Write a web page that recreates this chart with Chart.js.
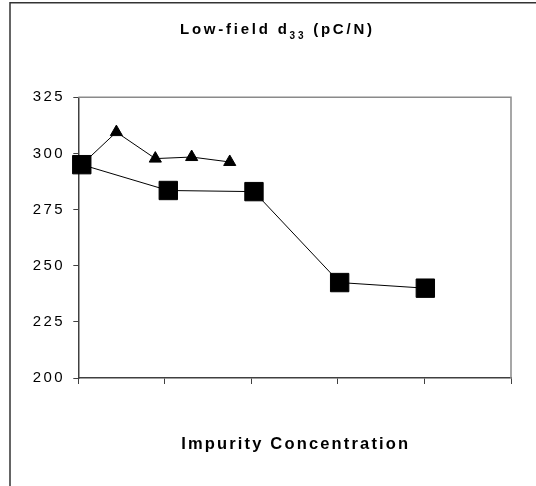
<!DOCTYPE html>
<html><head><meta charset="utf-8">
<script src="https://cdn.jsdelivr.net/npm/chart.js@4/dist/chart.umd.min.js"></script>
<style>html,body{margin:0;padding:0;background:#fff;}#wrap{width:536px;height:486px;}</style>
</head><body><div id="wrap"><canvas id="c" width="536" height="486"></canvas></div>
<script>
// ---- data ----
const titleMain = 'Low-field d';
const titleSub = '33';
const titleTail = ' (pC/N)';
const xAxisTitle = 'Impurity Concentration';
const yTicks = [200, 225, 250, 275, 300, 325];
const xTicks = [0, 1, 2, 3, 4, 5];
const squareX = [0.04, 1.04, 2.03, 3.02, 4.01];
const squareY = [295, 283.5, 283, 242.5, 240];
const triangleX = [0.04, 0.44, 0.89, 1.31, 1.75];
const triangleY = [295, 309.5, 297.7, 298.4, 296.2];

const FONT = "'Liberation Sans', Arial, sans-serif";
Chart.defaults.font.family = FONT;

function spacingFor(ctx, parts, target) {
  let nat = 0, n = 0;
  ctx.letterSpacing = '0px';
  parts.forEach(([txt, f]) => { ctx.font = f; nat += ctx.measureText(txt).width; n += txt.length; });
  return Math.max(0, (target - nat) / (n - 1));
}

const framePlugin = {
  id: 'frame',
  beforeDraw(chart) {
    const ctx = chart.ctx;
    ctx.save();
    ctx.fillStyle = '#fff';
    ctx.fillRect(0, 0, chart.width, chart.height);
    ctx.strokeStyle = '#333';
    ctx.lineWidth = 1.5;
    ctx.beginPath();
    ctx.moveTo(10, chart.height);
    ctx.lineTo(10, 2.7);
    ctx.lineTo(chart.width, 2.7);
    ctx.stroke();
    ctx.restore();
    ctx.letterSpacing = '2.4px';
  },
  beforeDatasetsDraw(chart) {
    const {ctx, chartArea: a} = chart;
    ctx.save();
    ctx.strokeStyle = '#8a8a8a';
    ctx.lineWidth = 1.5;
    ctx.beginPath();
    ctx.moveTo(a.left, a.top);
    ctx.lineTo(a.right, a.top);
    ctx.lineTo(a.right, a.bottom);
    ctx.stroke();
    ctx.restore();
  },
  afterDraw(chart) {
    const ctx = chart.ctx;
    ctx.save();
    ctx.fillStyle = '#000';
    ctx.textBaseline = 'alphabetic';
    ctx.textAlign = 'left';
    // main title with subscript
    const fMain = 'bold 15px ' + FONT, fSub = 'bold 10px ' + FONT;
    const ls = spacingFor(ctx, [[titleMain, fMain], [titleSub, fSub], [titleTail, fMain]], 192);
    ctx.letterSpacing = ls + 'px';
    ctx.font = fMain; const w1 = ctx.measureText(titleMain).width;
    ctx.font = fSub;  const w2 = ctx.measureText(titleSub).width;
    ctx.font = fMain; const w3 = ctx.measureText(titleTail).width;
    const total = w1 + w2 + w3 - ls;
    let x = 276 - total / 2;
    ctx.font = fMain; ctx.fillText(titleMain, x, 34); x += w1;
    ctx.font = fSub;  ctx.fillText(titleSub, x, 39); x += w2;
    ctx.font = fMain; ctx.fillText(titleTail, x, 34);
    // x-axis title
    const fX = 'bold 16.5px ' + FONT;
    const lx = spacingFor(ctx, [[xAxisTitle, fX]], 227);
    ctx.letterSpacing = lx + 'px';
    ctx.font = fX;
    const wx = ctx.measureText(xAxisTitle).width - lx;
    const a = chart.chartArea;
    ctx.fillText(xAxisTitle, (a.left + a.right) / 2 - wx / 2, 449.3);
    ctx.restore();
  }
};

new Chart(document.getElementById('c'), {
  type: 'line',
  data: {
    datasets: [
      {
        data: squareX.map((v, i) => ({x: v, y: squareY[i]})),
        borderColor: '#000', borderWidth: 1,
        pointStyle: 'rect', pointRadius: 13,
        pointBackgroundColor: '#000', pointBorderColor: '#000', pointBorderWidth: 1,
        tension: 0, clip: false
      },
      {
        data: triangleX.map((v, i) => ({x: v, y: triangleY[i]})),
        borderColor: '#000', borderWidth: 1,
        pointStyle: 'triangle', pointRadius: 7,
        pointBackgroundColor: '#000', pointBorderColor: '#000', pointBorderWidth: 1,
        tension: 0, clip: false
      }
    ]
  },
  options: {
    responsive: false,
    animation: false,
    devicePixelRatio: 1,
    layout: {padding: {left: 0, top: 97.3, right: 25, bottom: 0}},
    plugins: {legend: {display: false}, tooltip: {enabled: false}, title: {display: false}},
    scales: {
      x: {
        type: 'linear', min: 0, max: 5,
        afterBuildTicks: s => { s.ticks = xTicks.map(v => ({value: v})); },
        afterFit: s => { s.height = 108; },
        ticks: {callback: () => '', font: {size: 15}},
        grid: {drawOnChartArea: false, drawTicks: true, tickLength: 6, color: '#404040', lineWidth: 1},
        border: {display: true, color: '#404040', width: 1.5}
      },
      y: {
        type: 'linear', min: 200, max: 325,
        afterBuildTicks: s => { s.ticks = yTicks.map(v => ({value: v})); },
        afterFit: s => { s.width = 78.3; },
        ticks: {color: '#000', font: {size: 15}, padding: 8.2},
        grid: {drawOnChartArea: false, drawTicks: true, tickLength: 5, color: '#404040', lineWidth: 1},
        border: {display: true, color: '#404040', width: 1.5}
      }
    }
  },
  plugins: [framePlugin]
});
</script>
</body></html>
